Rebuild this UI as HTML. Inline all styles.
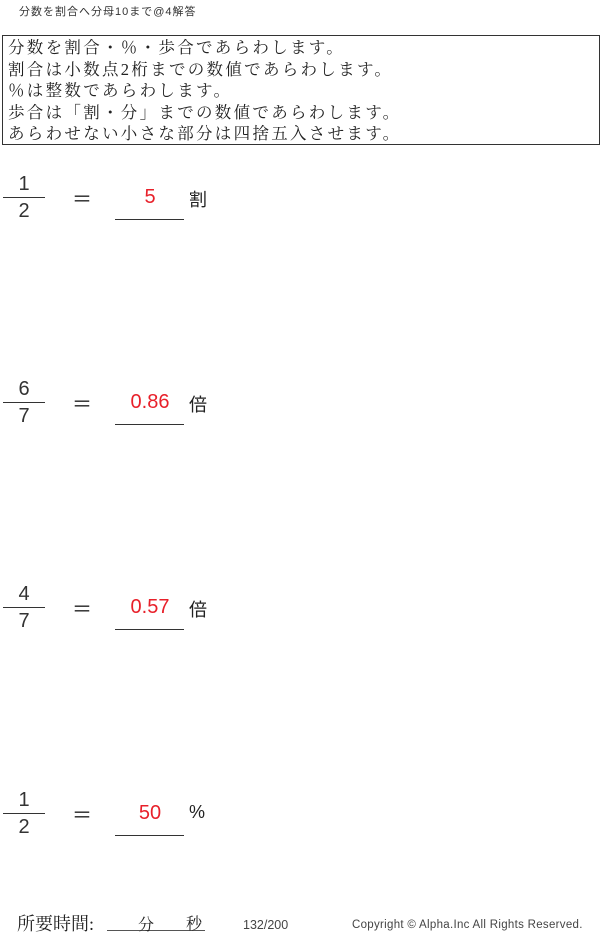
<!DOCTYPE html><html><head><meta charset="utf-8"><style>
body{margin:0;width:600px;height:938px;background:#fff;position:relative;font-family:"Liberation Sans","Noto Sans CJK JP",sans-serif;color:#222;overflow:hidden}
.a{position:absolute;white-space:nowrap}
.box{position:absolute;left:2px;top:35px;width:598px;height:110px;border:1.5px solid #333;box-sizing:border-box;font-family:"Liberation Serif","Noto Serif CJK SC",serif;font-size:16.5px;line-height:21.6px;padding:1px 0 0 5px;letter-spacing:2.3px}
.p{position:absolute;left:0;width:600px;height:60px}
.fl{position:absolute;left:3px;width:42px;border-top:1.5px solid #333}
.n{position:absolute;width:48px;text-align:center;font-size:20px;color:#333}
.r{color:#e8202a;font-size:20px;position:absolute;left:115px;width:70px;text-align:center}
.ul{position:absolute;left:115px;width:69px;border-top:1.5px solid #333}
</style></head><body>
<div class="a" style="left:19px;top:3px;font-size:11px;letter-spacing:1px;color:#333">分数を割合へ分母10まで@4解答</div>
<div class="box">分数を割合・％・歩合であらわします。<br>割合は小数点2桁までの数値であらわします。<br>％は整数であらわします。<br>歩合は「割・分」までの数値であらわします。<br>あらわせない小さな部分は四捨五入させます。</div>

<div class="p" style="top:168px"><div class="n" style="left:0;top:5px">1</div><div class="fl" style="top:29px"></div><div class="n" style="left:0;top:32px">2</div><div class="a" style="left:72px;top:15px;font-size:20px">＝</div><div class="r" style="top:18px">5</div><div class="ul" style="top:51px"></div><div class="a" style="left:189px;top:18px;font-size:18px">割</div></div>
<div class="p" style="top:373px"><div class="n" style="left:0;top:5px">6</div><div class="fl" style="top:29px"></div><div class="n" style="left:0;top:32px">7</div><div class="a" style="left:72px;top:15px;font-size:20px">＝</div><div class="r" style="top:18px">0.86</div><div class="ul" style="top:51px"></div><div class="a" style="left:189px;top:18px;font-size:18px">倍</div></div>
<div class="p" style="top:578px"><div class="n" style="left:0;top:5px">4</div><div class="fl" style="top:29px"></div><div class="n" style="left:0;top:32px">7</div><div class="a" style="left:72px;top:15px;font-size:20px">＝</div><div class="r" style="top:18px">0.57</div><div class="ul" style="top:51px"></div><div class="a" style="left:189px;top:18px;font-size:18px">倍</div></div>
<div class="p" style="top:784px"><div class="n" style="left:0;top:5px">1</div><div class="fl" style="top:29px"></div><div class="n" style="left:0;top:32px">2</div><div class="a" style="left:72px;top:15px;font-size:20px">＝</div><div class="r" style="top:18px">50</div><div class="ul" style="top:51px"></div><div class="a" style="left:189px;top:18px;font-size:18px">%</div></div>

<div class="a" style="left:17px;top:910px;font-size:18px;font-family:'Liberation Serif','Noto Serif CJK SC',serif">所要時間:</div>
<div class="a" style="left:107px;top:930px;width:98px;border-top:1px solid #555"></div>
<div class="a" style="left:138px;top:912px;font-size:16px;font-family:'Noto Serif CJK SC',serif">分</div>
<div class="a" style="left:186px;top:911px;font-size:16px;font-family:'Noto Serif CJK SC',serif">秒</div>
<div class="a" style="left:243px;top:918px;font-size:12.5px;color:#444">132/200</div>
<div class="a" style="left:352px;top:919px;font-size:11.5px;letter-spacing:0.3px;color:#444">Copyright ©  Alpha.Inc All Rights Reserved.</div>
</body></html>
